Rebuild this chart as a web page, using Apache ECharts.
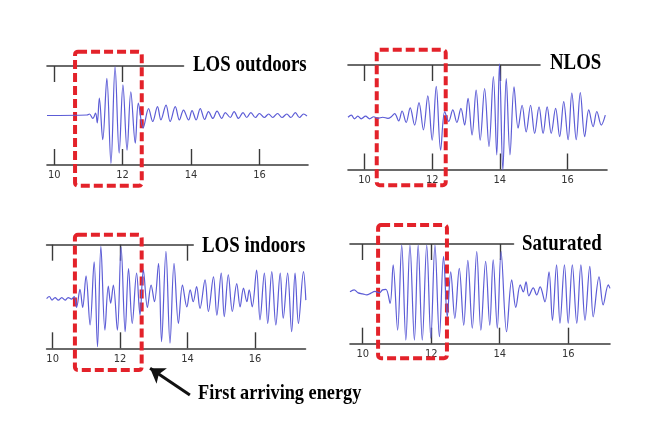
<!DOCTYPE html>
<html><head><meta charset="utf-8">
<script src="https://cdn.jsdelivr.net/npm/echarts@6/dist/echarts.min.js"></script>
<style>html,body{margin:0;padding:0;background:#fff}#c{width:645px;height:429px}</style>
</head><body><div id="c"></div>
<script>
// ---- data (time in s, normalised amplitude) ----
const TITLES = ["LOS outdoors", "NLOS", "LOS indoors", "Saturated"];
const NOTE = "First arriving energy";
const BOTTOM_TICKS = [10, 12, 14, 16];
const TOP_TICKS_1 = [10, 12];
const TOP_TICKS_2 = [10, 12, 14];
const TOP_TICKS_3 = [10, 12, 14];
const TOP_TICKS_4 = [10, 12, 14];

const T1 = [9.79,10.96,11.03,11.13,11.21,11.26,11.32,11.42,11.54,11.66,11.78,11.90,12.01,12.13,12.24,12.37,12.46,12.60,12.76,12.88,13.02,13.12,13.27,13.39,13.54,13.66,13.78,13.93,14.03,14.15,14.27,14.40,14.51,14.64,14.76,14.90,15.00,15.15,15.26,15.39,15.52,15.63,15.75,15.88,16.00,16.14,16.27,16.39,16.53,16.66,16.80,16.92,17.05,17.17,17.29,17.39];
const A1 = [0,0.01,0.03,-0.06,0.05,-0.15,0.35,-0.49,0.75,-0.97,0.99,-0.76,0.62,-0.70,0.48,-0.56,0.25,-0.25,0.14,-0.12,0.18,-0.09,0.21,-0.12,0.18,-0.09,0.11,-0.09,0.10,-0.09,0.14,-0.08,0.08,-0.06,0.09,-0.06,0.06,-0.04,0.08,-0.06,0.06,-0.04,0.06,-0.04,0.04,-0.04,0.03,-0.04,0.04,-0.04,0.03,-0.04,0.06,-0.04,0.03,-0.01];

const T2 = [9.51,9.61,9.70,9.80,9.90,10.03,10.15,10.27,10.39,10.54,10.69,10.79,10.89,11.01,11.11,11.23,11.35,11.48,11.61,11.74,11.87,12.00,12.12,12.25,12.37,12.49,12.61,12.73,12.85,12.96,13.06,13.18,13.30,13.42,13.55,13.68,13.81,13.91,13.99,14.09,14.19,14.30,14.42,14.54,14.66,14.78,14.91,15.03,15.16,15.28,15.40,15.52,15.65,15.77,15.89,16.02,16.13,16.26,16.38,16.51,16.63,16.76,16.87,17.00,17.12];
const A2 = [0.00,0.04,-0.03,0.02,-0.03,0.02,-0.03,0.01,-0.02,0.00,-0.02,0.01,0.07,-0.07,0.12,-0.10,0.18,-0.15,0.28,-0.24,0.41,-0.44,0.59,-0.63,0.11,-0.08,0.14,-0.10,0.17,-0.15,0.36,-0.34,0.52,-0.44,0.55,-0.56,0.78,-0.72,1.02,-1.01,0.74,-0.72,0.58,-0.21,0.23,-0.28,0.23,-0.31,0.20,-0.31,0.20,-0.31,0.17,-0.37,0.30,-0.43,0.46,-0.43,0.47,-0.37,0.14,-0.18,0.11,-0.15,0.04];

const T3 = [9.82,9.90,9.98,10.07,10.17,10.27,10.37,10.46,10.56,10.64,10.71,10.81,10.89,10.99,11.11,11.23,11.33,11.43,11.55,11.65,11.72,11.80,11.92,12.03,12.15,12.25,12.36,12.49,12.59,12.69,12.81,12.92,13.02,13.14,13.23,13.36,13.48,13.60,13.73,13.85,13.98,14.08,14.17,14.27,14.37,14.52,14.62,14.77,14.87,15.00,15.09,15.21,15.33,15.46,15.56,15.66,15.76,15.83,15.92,16.05,16.15,16.28,16.38,16.50,16.62,16.75,16.84,16.97,17.09,17.19,17.29,17.44,17.51];
const A3 = [-0.04,0.00,-0.07,-0.02,-0.07,-0.02,-0.07,-0.02,-0.05,0.00,-0.21,0.14,-0.21,0.40,-0.55,0.67,-0.97,0.97,-0.65,0.20,-0.13,0.22,-0.65,0.96,-0.68,0.54,-0.52,0.45,-0.36,0.51,-0.21,0.22,-0.10,0.64,-0.87,0.87,-0.90,0.64,-0.52,0.22,-0.20,0.13,-0.10,0.19,-0.23,0.32,-0.29,0.38,-0.36,0.45,-0.39,0.42,-0.29,0.25,-0.20,0.16,-0.10,0.13,-0.20,0.51,-0.45,0.45,-0.52,0.48,-0.55,0.45,-0.42,0.45,-0.68,0.45,-0.52,0.48,-0.07];

const T4 = [9.63,9.75,9.87,10.00,10.12,10.23,10.36,10.49,10.58,10.68,10.80,10.89,11.02,11.14,11.26,11.38,11.51,11.62,11.74,11.87,11.99,12.11,12.24,12.36,12.47,12.57,12.69,12.82,12.95,13.07,13.20,13.33,13.45,13.59,13.71,13.81,13.93,14.04,14.20,14.35,14.47,14.60,14.69,14.77,14.85,14.98,15.08,15.18,15.32,15.44,15.54,15.66,15.76,15.89,16.00,16.12,16.25,16.37,16.49,16.63,16.73,16.90,17.02,17.17,17.22];
const A4 = [0.04,0.08,0.02,0.00,-0.02,0.01,0.05,0.02,0.08,0.09,-0.19,0.58,-0.73,0.98,-0.93,0.98,-0.93,0.98,-0.93,0.98,-0.89,0.98,-0.86,0.75,-0.46,0.44,-0.49,0.51,-0.63,0.67,-0.69,0.85,-0.73,0.65,-0.63,0.68,-0.69,0.85,-0.76,0.28,-0.27,0.18,0.04,0.24,-0.04,0.12,-0.02,0.14,-0.16,0.44,-0.53,0.58,-0.59,0.58,-0.59,0.58,-0.59,0.58,-0.53,0.55,-0.46,0.34,-0.22,0.18,0.11];

// red boxes: [t start, amplitude top, t end, amplitude bottom]
const BOX1 = [10.61, 1.29, 12.56, -1.42];
const BOX2 = [10.36, 1.29, 12.40, -1.30];
const BOX3 = [10.66, 1.19, 12.64, -1.42];
const BOX4 = [10.45, 1.38, 12.46, -1.29];
// arrow in panel 3 coordinates: [tail, head]
const ARROW = [[14.07, -1.90], [12.89, -1.386]];

// ---- layout / style ----
const WAVE = '#5c5cd6', RED = '#e3222a', AX = '#3a3a3a';
const PANELS = [
  {g:{left:47,top:66,width:261,height:99}, min:9.79, max:17.42, topMax:13.78, topW:136.5, T:T1, A:A1, box:BOX1, top:TOP_TICKS_1},
  {g:{left:348,top:65,width:259,height:104.5}, min:9.51, max:17.17, topMax:15.19, topW:192, T:T2, A:A2, box:BOX2, top:TOP_TICKS_2},
  {g:{left:46.6,top:244.7,width:258.9,height:103.6}, min:9.82, max:17.50, topMax:14.17, topW:146.6, T:T3, A:A3, box:BOX3, top:TOP_TICKS_3},
  {g:{left:350,top:244,width:260,height:99.7}, min:9.63, max:17.22, topMax:14.40, topW:163.5, T:T4, A:A4, box:BOX4, top:TOP_TICKS_4}
];

const grid = [], xAxis = [], yAxis = [], series = [];
PANELS.forEach((p, i) => {
  grid.push(Object.assign({outerBoundsMode:'none', containLabel:false}, p.g));
  xAxis.push({type:'value', gridIndex:i, min:p.min, max:p.max, position:'bottom',
    axisLine:{show:true, onZero:false, lineStyle:{color:AX, width:1.6}},
    axisTick:{show:true, inside:true, length:16, customValues:BOTTOM_TICKS, lineStyle:{color:AX, width:1.4}},
    axisLabel:{show:true, customValues:BOTTOM_TICKS, margin:5, color:'#333', fontSize:11,
      fontFamily:'"Liberation Sans Narrow","DejaVu Sans Condensed",sans-serif'},
    splitLine:{show:false}});
  yAxis.push({type:'value', gridIndex:i, min:-1, max:1, show:false});
});
PANELS.forEach((p, i) => {
  grid.push({outerBoundsMode:'none', containLabel:false, left:p.g.left, top:p.g.top, width:p.topW, height:p.g.height});
  xAxis.push({type:'value', gridIndex:4+i, min:p.min, max:p.topMax, position:'top',
    axisLine:{show:true, onZero:false, lineStyle:{color:AX, width:1.6}},
    axisTick:{show:true, inside:true, length:16, customValues:p.top, lineStyle:{color:AX, width:1.4}},
    axisLabel:{show:false}, splitLine:{show:false}});
  yAxis.push({type:'value', gridIndex:4+i, min:-1, max:1, show:false});
});
PANELS.forEach((p, i) => {
  series.push({type:'line', xAxisIndex:i, yAxisIndex:i, data:p.T.map((t,k)=>[t,p.A[k]]),
    showSymbol:false, smooth:0.35, clip:false, lineStyle:{color:WAVE, width:1.2}, silent:true});
  series.push({type:'custom', xAxisIndex:i, yAxisIndex:i, clip:false, data:[p.box], silent:true,
    renderItem:(params, api) => {
      const a = api.coord([api.value(0), api.value(1)]);
      const b = api.coord([api.value(2), api.value(3)]);
      return {type:'rect', shape:{x:a[0], y:a[1], width:b[0]-a[0], height:b[1]-a[1], r:3},
        style:{fill:'none', stroke:RED, lineWidth:4, lineDash:[9,4]}};
    }});
});
series.push({type:'lines', coordinateSystem:'cartesian2d', xAxisIndex:2, yAxisIndex:2, clip:false,
  data:[{coords:ARROW}], symbol:['none','arrow'], symbolSize:14,
  lineStyle:{color:'#111', width:3, opacity:1}, silent:true});

const TITLE_FONT = 'bold 23px "Liberation Serif","Times New Roman",serif';
const txt = (s, x, y, sx, font) => ({type:'text', x:x, y:y, scaleX:sx,
  style:{text:s, x:0, y:0, font:font, fill:'#000', align:'left', verticalAlign:'middle'}});

const chart = echarts.init(document.getElementById('c'), null, {renderer:'canvas'});
chart.setOption({
  backgroundColor:'#fff', animation:false,
  grid, xAxis, yAxis, series,
  graphic:[
    txt(TITLES[0], 193, 65, 0.82, TITLE_FONT),
    txt(TITLES[1], 550, 63, 0.82, TITLE_FONT),
    txt(TITLES[2], 202, 246.5, 0.82, TITLE_FONT),
    txt(TITLES[3], 522, 244, 0.82, TITLE_FONT),
    txt(NOTE, 198, 393, 0.83, 'bold 22px "Liberation Serif","Times New Roman",serif')
  ]
});
</script></body></html>
